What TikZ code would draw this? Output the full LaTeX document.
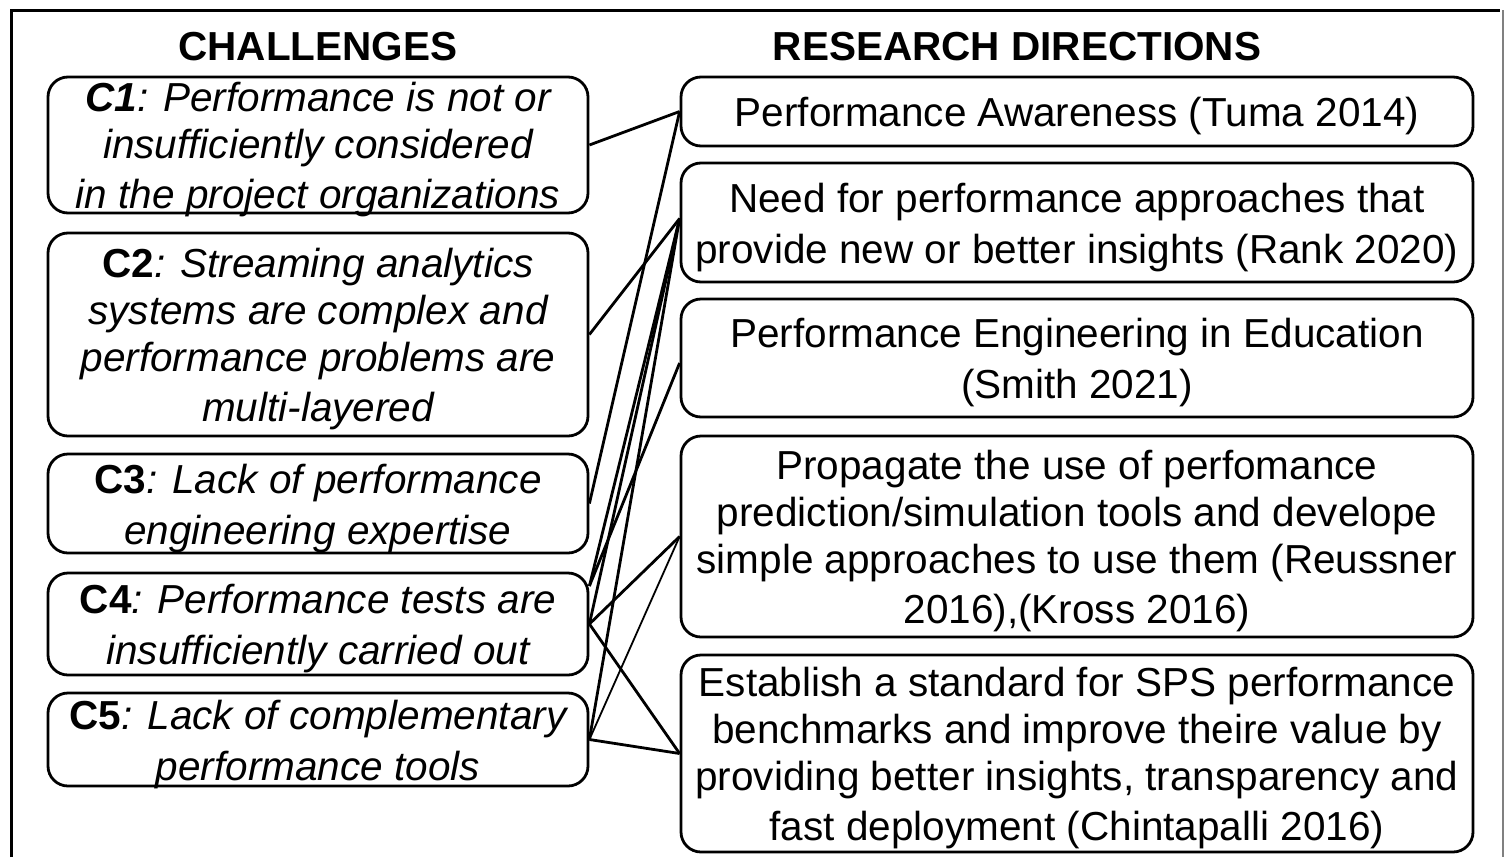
\documentclass[tikz,border=0pt]{standalone}
\usepackage{fontspec}
\setmainfont{Liberation Sans}
% strut for the first and last line of every box, so the text block
% has the same top and bottom whatever the letters
\newcommand\tstrut{\rule[-10pt]{0pt}{50pt}}
\begin{document}
\begin{tikzpicture}[x=1pt,y=-1pt,
  txt/.style={font=\fontsize{40.5}{47}\selectfont},
  box/.style={txt, draw, line width=2.8pt, rounded corners=20pt, inner xsep=0pt,
    inner ysep=-12pt, align=center},
  chal/.style={box, minimum width=540pt, font=\fontsize{40.5}{47}\selectfont\itshape},
  dir/.style={box, minimum width=792pt},
  head/.style={font=\fontsize{40.5}{47}\selectfont\bfseries, inner sep=0pt, anchor=base},
  link/.style={line width=2.8pt},
  thinlink/.style={line width=1.8pt}]
\useasboundingbox (0,0) rectangle (1506,857);

% frame
\draw[line width=3pt] (11,857) -- (11,10) -- (1500,10);
\draw[gray, line width=1.5pt] (1503,10) -- (1503,857);

% column headings
\node[head] (hc) at (318,60) {CHALLENGES};
\node[head] (hr) at (1017,60) {RESEARCH DIRECTIONS};

% challenges
\node[chal, minimum height=136pt] (c1) at (318,145)
  {\tstrut\textbf{C1}: Performance is not or\\insufficiently considered\\\tstrut in the project organizations};
\node[chal, minimum height=203pt] (c2) at (318,334.5)
  {\tstrut\textbf{\upshape C2}: Streaming analytics\\systems are complex and\\performance problems are\\\tstrut multi-layered};
\node[chal, minimum height=99pt] (c3) at (318,503.5)
  {\tstrut\textbf{\upshape C3}: Lack of performance\\\tstrut engineering expertise};
\node[chal, minimum height=102pt] (c4) at (318,624)
  {\tstrut\textbf{\upshape C4}: Performance tests are\\\tstrut insufficiently carried out};
\node[chal, minimum height=93pt] (c5) at (318,739.5)
  {\tstrut\textbf{\upshape C5}: Lack of complementary\\\tstrut performance tools};

% research directions
\node[dir, minimum height=69pt] (r1) at (1077,111.5)
  {\tstrut Performance Awareness (Tuma 2014)};
\node[dir, minimum height=119pt] (r2) at (1077,222.5)
  {\tstrut Need for performance approaches that\\\tstrut provide new or better insights (Rank 2020)};
\node[dir, minimum height=118pt] (r3) at (1077,358)
  {\tstrut Performance Engineering in Education\\\tstrut (Smith 2021)};
\node[dir, minimum height=201pt] (r4) at (1077,536.5)
  {\tstrut Propagate the use of perfomance\\prediction/simulation tools and develope\\simple approaches to use them (Reussner\\\tstrut 2016),(Kross 2016)};
\node[dir, minimum height=197pt] (r5) at (1077,753.5)
  {\tstrut Establish a standard for SPS performance\\benchmarks and improve theire value by\\providing better insights, transparency and\\\tstrut fast deployment (Chintapalli 2016)};

% anchor points on the boxes
\coordinate (c4up) at ([yshift=38pt]c4.east);
\coordinate (r2in) at ([yshift=4pt]r2.west);
\coordinate (r3in) at ([yshift=-5pt]r3.west);

% links between challenges and directions
\draw[link] (c1.east) -- (r1.west);
\draw[link] (c3.east) -- (r1.west);
\draw[link] (c2.east) -- (r2in);
\draw[link] (c4up) -- (r2in);
\draw[link] (c4.east) -- (r2in);
\draw[link] (c5.east) -- (r2in);
\draw[link] (c4up) -- (r3in);
\draw[link] (c4.east) -- (r4.west);
\draw[thinlink] (c5.east) -- (r4.west);
\draw[link] (c4.east) -- (r5.west);
\draw[link] (c5.east) -- (r5.west);
\end{tikzpicture}
\end{document}
